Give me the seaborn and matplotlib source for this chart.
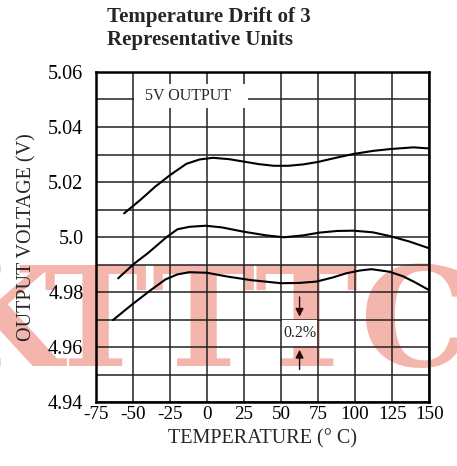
import numpy as np
import pandas as pd
import matplotlib
matplotlib.use('Agg')
import matplotlib.pyplot as plt
import seaborn as sns
from matplotlib.patches import Rectangle

# Three representative units
temp_a = [-56, -45, -35, -25, -14, -5, 4, 15, 25, 35, 45, 55, 65, 75, 87, 99, 112, 124, 139.5, 150]
volt_a = [5.0086, 5.0135, 5.0183, 5.0225, 5.0266, 5.0282, 5.0288, 5.0283, 5.0274, 5.0265,
          5.0259, 5.0259, 5.0264, 5.0273, 5.0288, 5.0302, 5.0313, 5.0320, 5.0326, 5.0322]

temp_b = [-60, -49, -40, -27, -20, -12, -1, 10, 25, 40, 52, 65, 76, 88, 99, 112, 123, 137, 150]
volt_b = [4.9850, 4.9904, 4.9941, 5.0001, 5.0028, 5.0037, 5.0041, 5.0035, 5.0019, 5.0006,
          4.9999, 5.0006, 5.0016, 5.0022, 5.0023, 5.0017, 5.0004, 4.9983, 4.9959]

temp_c = [-63.5, -51, -38, -28, -20, -12, 0, 14, 30, 50, 62, 74, 85, 94, 103, 111, 123, 132, 139.5, 150]
volt_c = [4.9698, 4.9753, 4.9807, 4.9846, 4.9864, 4.9872, 4.9870, 4.9856, 4.9843, 4.9832,
          4.9833, 4.9838, 4.9853, 4.9868, 4.9878, 4.9883, 4.9874, 4.9858, 4.9838, 4.9807]

x_ticks = [-75, -50, -25, 0, 25, 50, 75, 100, 125, 150]
y_ticks = [4.94, 4.96, 4.98, 5.00, 5.02, 5.04, 5.06]
y_labels = ["4.94", "4.96", "4.98", "5.0", "5.02", "5.04", "5.06"]
y_minor = [4.95, 4.97, 4.99, 5.01, 5.03, 5.05]

df = pd.concat([
    pd.DataFrame({"temp": temp_a, "volt": volt_a, "unit": "A"}),
    pd.DataFrame({"temp": temp_b, "volt": volt_b, "unit": "B"}),
    pd.DataFrame({"temp": temp_c, "volt": volt_c, "unit": "C"}),
])

sns.set_theme(style="white")
plt.rcParams['font.family'] = ['Liberation Serif', 'DejaVu Serif']

fig = plt.figure(figsize=(4.57, 4.66), dpi=100)
ax = fig.add_axes([0.210, 0.1373, 0.729, 0.7082])
ax.set_facecolor('none')

sns.lineplot(data=df, x="temp", y="volt", hue="unit", palette=["black"] * 3,
             linewidth=1.5, legend=False, sort=False, ax=ax, zorder=3)

ax.set_xlim(-75, 150)
ax.set_ylim(4.94, 5.06)
ax.set_xticks(x_ticks)
ax.set_xticklabels([str(t) for t in x_ticks])
ax.set_yticks(y_ticks)
ax.set_yticklabels(y_labels)
ax.set_yticks(y_minor, minor=True)
ax.grid(True, which='both', color='#222222', linewidth=1.1)
ax.set_axisbelow(True)
ax.tick_params(axis='both', which='both', length=0, colors='black')
ax.tick_params(axis='y', pad=9, labelsize=14.5)
ax.tick_params(axis='x', pad=3, labelsize=13.8)
for s in ax.spines.values():
    s.set_visible(True)
    s.set_color('black')
    s.set_linewidth(1.8)

ax.set_xlabel("TEMPERATURE (° C)", fontsize=14.5, labelpad=4)
ax.set_ylabel("OUTPUT VOLTAGE (V)", fontsize=14.5, labelpad=8)

# label boxes
ax.add_patch(Rectangle((-49, 5.0469), 77, 0.0088, fc='white', ec='none', zorder=2))
ax.text(-13, 5.0513, "5V OUTPUT", fontsize=11.5, ha='center', va='center', zorder=4)

ax.add_patch(Rectangle((50.5, 4.9603), 24, 0.0094, fc='white', ec='none', zorder=2))
ax.text(62.5, 4.9650, "0.2%", fontsize=11.5, ha='center', va='center', zorder=4)
ax.annotate("", xy=(62.5, 4.9700), xytext=(62.5, 4.9792),
            arrowprops=dict(arrowstyle='-|>', color='#2a0a0a', lw=1.0, mutation_scale=12), zorder=4)
ax.annotate("", xy=(62.5, 4.9600), xytext=(62.5, 4.9508),
            arrowprops=dict(arrowstyle='-|>', color='#2a0a0a', lw=1.0, mutation_scale=12), zorder=4)

# watermark letters
wm_letters = ["K", "T", "T", "T", "C"]
wm_px = [2, 95, 203, 306, 414]
for ch, px in zip(wm_letters, wm_px):
    ax.text(px / 457, 0.2146, ch, transform=fig.transFigure, fontsize=100,
            family='DejaVu Serif', fontweight='bold', color='#f4b5ad',
            ha='center', va='baseline', zorder=0.2, clip_on=False)

fig.text(0.234, 1 - 7 / 466, "Temperature Drift of 3\nRepresentative Units",
         fontsize=15, fontweight='bold', ha='left', va='top', linespacing=1.18)

fig.savefig('out.png', dpi=100)
